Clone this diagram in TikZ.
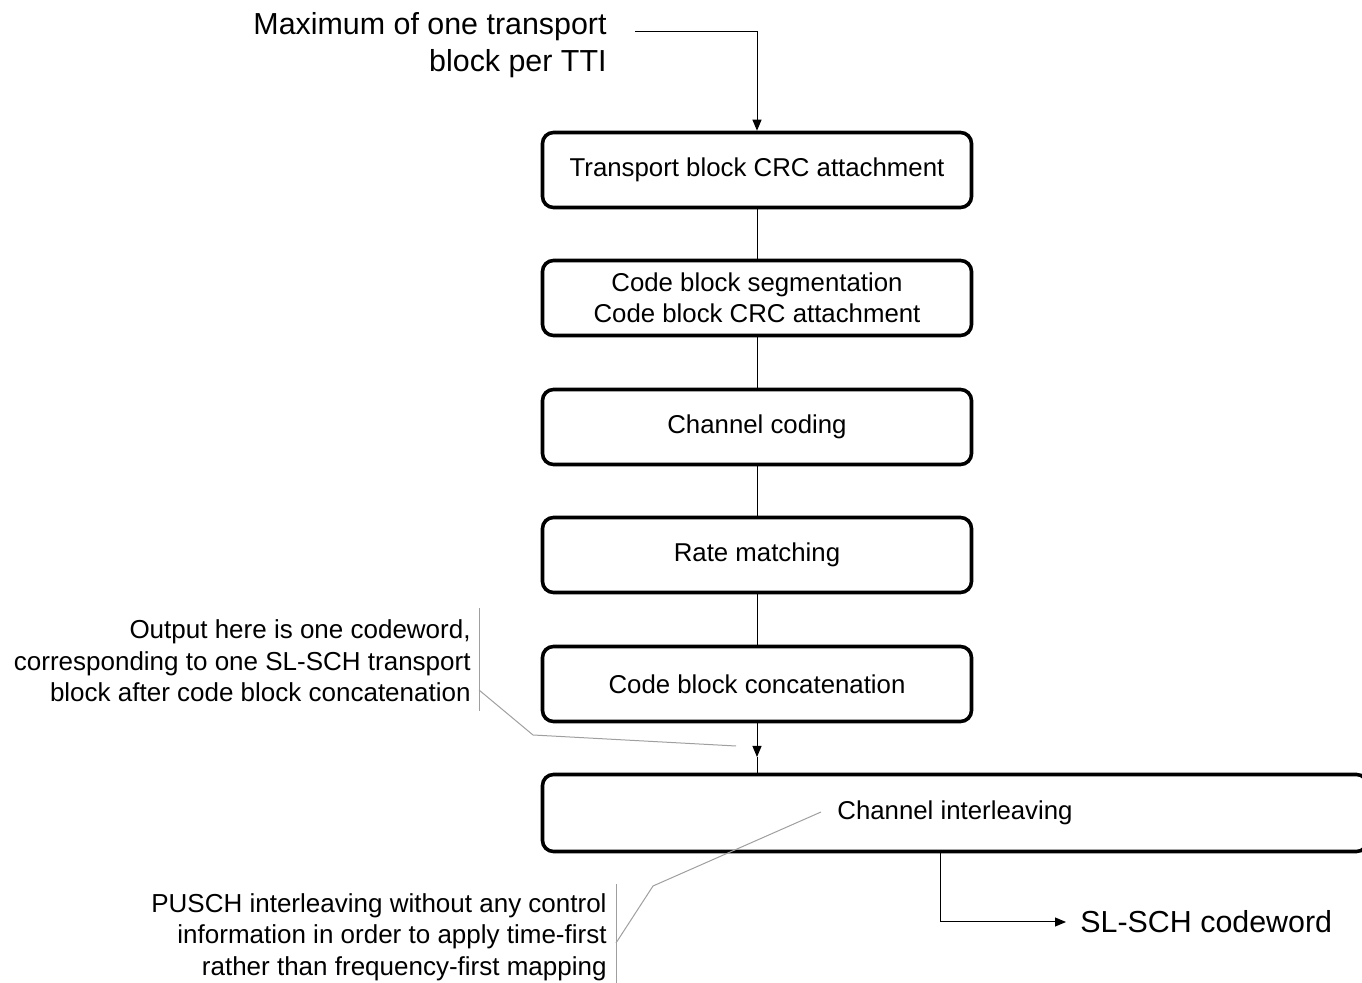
\documentclass[tikz,border=0pt]{standalone}
\usepackage{fontspec}
\setmainfont{Liberation Sans}
\usetikzlibrary{arrows.meta}

\tikzset{
  stagebox/.style={draw,line width=1.8pt,rounded corners=5.5pt,minimum width=214.5pt,
    minimum height=37.5pt,align=center,inner sep=0pt,font=\fontsize{12.9}{15.5}\selectfont},
  flow/.style={line width=0.5pt},
  flowarrow/.style={line width=0.5pt,-{Triangle[width=4.5pt,length=5.5pt]}},
  bigtext/.style={inner sep=0pt,align=right,font=\fontsize{15.2}{18.5}\selectfont},
  notetext/.style={inner sep=0pt,align=right,font=\fontsize{13}{15.75}\selectfont},
  noteline/.style={gray!75,line width=0.5pt},
}

\begin{document}
\begin{tikzpicture}[x=0.5pt,y=-0.5pt]
\useasboundingbox (0,0) rectangle (1362,983);

% processing chain
\node[stagebox] (tbcrc) at (757,170) {Transport block CRC attachment};
\node[stagebox] (cbseg) at (757,298) {Code block segmentation\\Code block CRC attachment};
\node[stagebox] (chcod) at (757,427) {Channel coding};
\node[stagebox] (ratem) at (757,555) {Rate matching};
\node[stagebox] (cbcat) at (757,684) {Code block concatenation};
\node[stagebox,minimum width=412.5pt,minimum height=38.5pt] (chint) at (955,813) {Channel interleaving};

\draw[flow] (tbcrc) -- (cbseg);
\draw[flow] (cbseg) -- (chcod);
\draw[flow] (chcod) -- (ratem);
\draw[flow] (ratem) -- (cbcat);
\coordinate (cwpoint) at (757,757);
\draw[flowarrow] (cbcat.south) -- (cwpoint);
\draw[flow] (cwpoint) -- (cwpoint |- chint.north);

% input
\node[bigtext,anchor=east] (tbin) at (607,45) {Maximum of one transport\\block per TTI};
\coordinate (tbstart) at (635,32);
\draw[flowarrow] (tbstart) -| (tbcrc.north);

% output
\node[bigtext,anchor=west,inner xsep=7pt] (slcw) at (1066,922) {SL-SCH codeword};
\coordinate (outx) at (940,0);
\draw[flowarrow] (outx |- chint.south) |- (slcw.west);

% notes
\node[notetext,anchor=east] (note1) at (471,661) {Output here is one codeword,\\corresponding to one SL-SCH transport\\block after code block concatenation};
\coordinate (bar1a) at (479,608);
\coordinate (bar1b) at (479,711);
\draw[noteline] (bar1a) -- (bar1b);
\draw[noteline] (479,690) -- (533,735) -- (736,746);

\node[notetext,anchor=east] (note2) at (607,937) {PUSCH interleaving without any control\\information in order to apply time-first\\rather than frequency-first mapping};
\coordinate (bar2a) at (616,884);
\coordinate (bar2b) at (616,983);
\draw[noteline] (bar2a) -- (bar2b);
\draw[noteline] (616,943) -- (653,886) -- (821,812);
\end{tikzpicture}
\end{document}
